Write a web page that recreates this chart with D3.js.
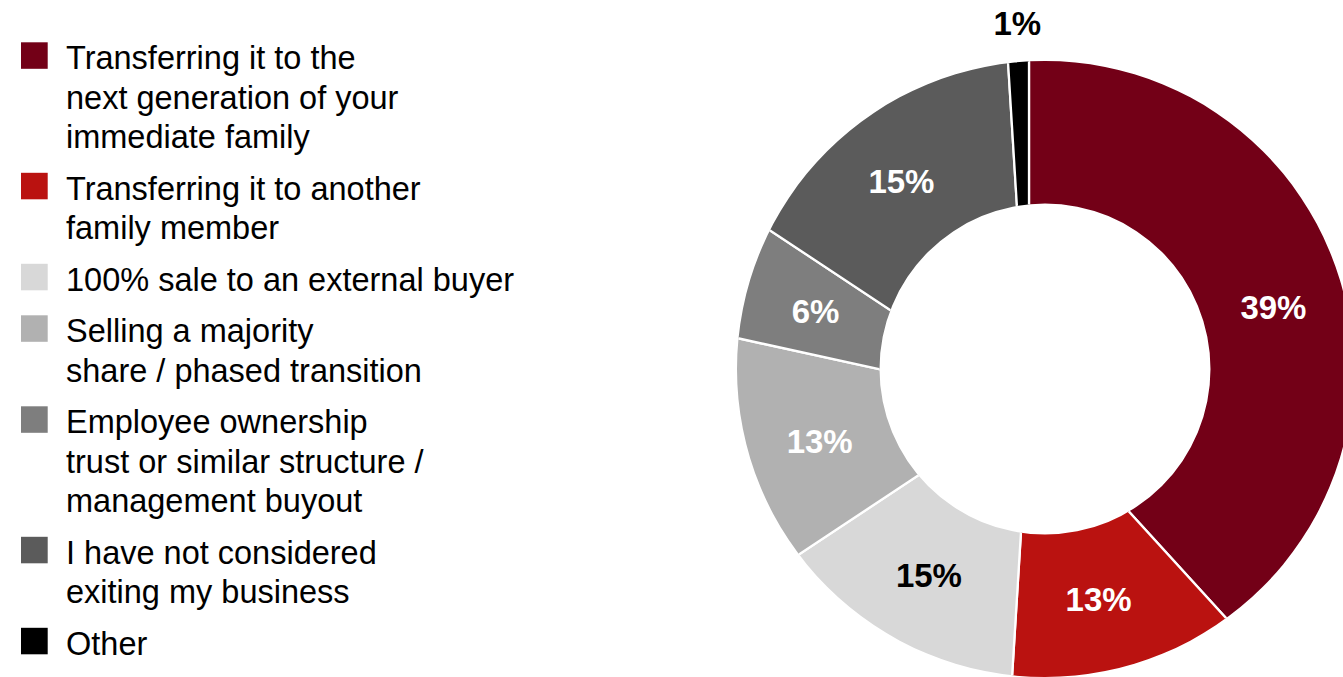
<!DOCTYPE html>
<html>
<head>
<meta charset="utf-8">
<script src="https://cdn.jsdelivr.net/npm/d3@7"></script>
<style>
  html, body { margin: 0; padding: 0; background: #ffffff; }
  svg { display: block; }
</style>
</head>
<body>
<svg id="chart" width="1343" height="677"></svg>
<script>
// Survey answers: how owners plan to exit their business (share of respondents, %)
const categories = [
  "Transferring it to the next generation of your immediate family",
  "Transferring it to another family member",
  "100% sale to an external buyer",
  "Selling a majority share / phased transition",
  "Employee ownership trust or similar structure / management buyout",
  "I have not considered exiting my business",
  "Other"
];
const values = [39, 13, 15, 13, 6, 15, 1];

// Legend text, broken into lines as printed
const legendLines = [
  ["Transferring it to the", "next generation of your", "immediate family"],
  ["Transferring it to another", "family member"],
  ["100% sale to an external buyer"],
  ["Selling a majority", "share / phased transition"],
  ["Employee ownership", "trust or similar structure /", "management buyout"],
  ["I have not considered", "exiting my business"],
  ["Other"]
];

const palette = ["#730017", "#BA1210", "#D8D8D8", "#B1B1B1", "#7E7E7E", "#5B5B5B", "#000000"];
const labelInk = ["#ffffff", "#ffffff", "#000000", "#ffffff", "#ffffff", "#ffffff", "#000000"];

const color = d3.scaleOrdinal(categories, palette);
const ink = d3.scaleOrdinal(categories, labelInk);

const svg = d3.select("#chart");
svg.append("rect").attr("width", 1343).attr("height", 677).attr("fill", "#ffffff");

// ---- Ring geometry ----
const ring = { cx: 1045, cy: 369, inner: 165.5, outer: 308 };
// point the slice edges radiate from
const focus = { x: 1029, y: 402 };

const pie = d3.pie().sort(null).value(d => d.value);
const slices = pie(categories.map((c, i) => ({ name: c, value: values[i] })));

const wedge = d3.arc().innerRadius(0).outerRadius(560);
const band = d3.arc().innerRadius(ring.inner).outerRadius(ring.outer)
  .startAngle(0).endAngle(2 * Math.PI);

const defs = svg.append("defs");
defs.append("clipPath").attr("id", "ring-clip")
  .append("path")
  .attr("transform", `translate(${ring.cx},${ring.cy})`)
  .attr("d", band());

const donut = svg.append("g").attr("clip-path", "url(#ring-clip)");
const wedges = donut.append("g").attr("transform", `translate(${focus.x},${focus.y})`);

wedges.selectAll("path")
  .data(slices)
  .join("path")
  .attr("d", wedge)
  .attr("fill", d => color(d.data.name))
  .attr("stroke", "#ffffff")
  .attr("stroke-width", 2.3)
  .attr("stroke-linejoin", "miter");

// distance from the focus point to a ring circle of radius R along direction u
function reach(u, R) {
  const dx = focus.x - ring.cx, dy = focus.y - ring.cy;
  const b = dx * u[0] + dy * u[1];
  const c = dx * dx + dy * dy - R * R;
  return -b + Math.sqrt(b * b - c);
}

// ---- Value labels ----
const labelLayer = svg.append("g")
  .attr("font-family", "'Liberation Sans', Arial, Helvetica, sans-serif")
  .attr("font-weight", "bold")
  .attr("font-size", 33)
  .attr("text-anchor", "middle");

labelLayer.selectAll("text")
  .data(slices)
  .join("text")
  .each(function (d) {
    const a = (d.startAngle + d.endAngle) / 2;
    const u = [Math.sin(a), -Math.cos(a)];
    const rIn = reach(u, ring.inner), rOut = reach(u, ring.outer);
    const r = d.data.value < 3 ? rOut + 38.5 : (rIn + rOut) / 2;
    d3.select(this)
      .attr("x", focus.x + r * u[0])
      .attr("y", focus.y + r * u[1])
      .attr("dy", "0.358em");
  })
  .attr("fill", d => ink(d.data.name))
  .text(d => d.data.value + "%");

// ---- Legend ----
const legend = svg.append("g")
  .attr("font-family", "'Liberation Sans', Arial, Helvetica, sans-serif")
  .attr("font-size", 32.5)
  .attr("fill", "#000000");

const lineStep = 39.5, itemGap = 51.5;
let baseline = 69.3;
categories.forEach((c, i) => {
  const item = legend.append("g");
  item.append("rect")
    .attr("x", 21).attr("y", baseline - 27)
    .attr("width", 26.7).attr("height", 26.5)
    .attr("fill", color(c));
  const t = item.append("text").attr("x", 66).attr("y", baseline);
  legendLines[i].forEach((line, j) => {
    t.append("tspan").attr("x", 66).attr("y", baseline + j * lineStep).text(line);
  });
  baseline += (legendLines[i].length - 1) * lineStep + itemGap;
});
</script>
</body>
</html>
